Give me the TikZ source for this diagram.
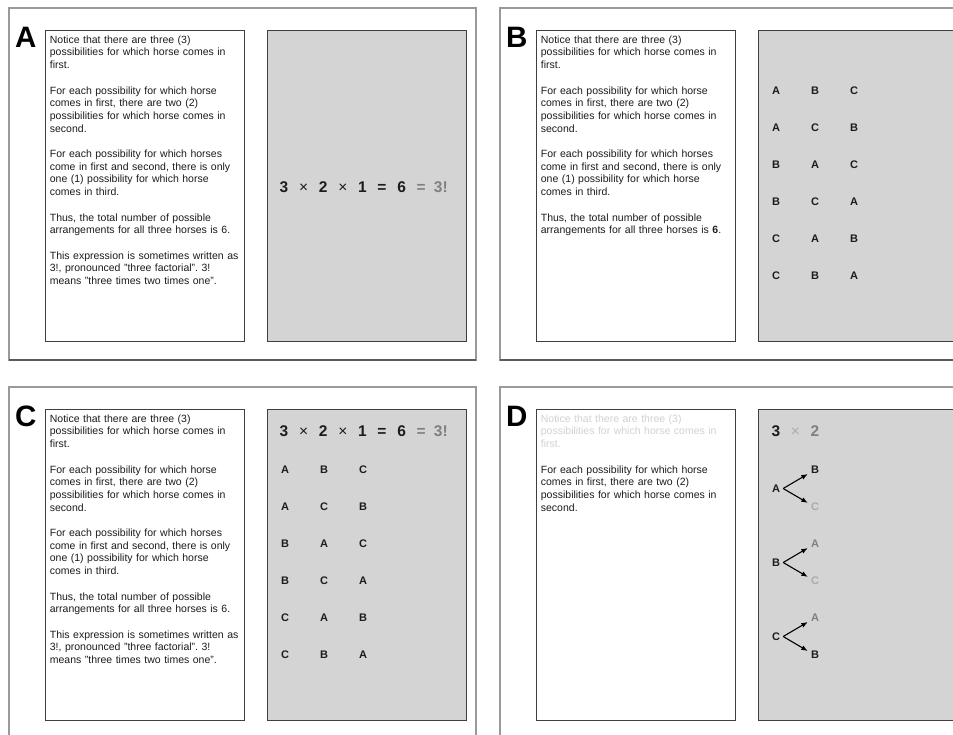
\documentclass[tikz,border=0pt]{standalone}
\usepackage{fontspec}
\setmainfont{Liberation Sans}
\usepackage{tikz}
\usetikzlibrary{arrows.meta,positioning,calc}
\frenchspacing
\definecolor{cInk}{HTML}{1C1C1C}
\definecolor{cEdge}{HTML}{3F3F3F}
\definecolor{cFrame}{HTML}{9A9A9A}
\definecolor{cRim}{HTML}{5A5A5A}
\definecolor{cBoard}{HTML}{D4D4D4}
\definecolor{cMid}{HTML}{808080}
\definecolor{cPale}{HTML}{ABABAB}
\definecolor{cFaint}{HTML}{D2D2D2}
\tikzset{
  frame/.style={draw=cFrame, line width=1.1pt},
  rim/.style={draw=cRim, line width=1.1pt},
  sheet/.style={draw=cEdge, line width=1pt, fill=white, minimum width=199pt,
                minimum height=311pt, inner sep=0pt, anchor=north west},
  board/.style={sheet, fill=cBoard},
  tag/.style={font=\fontsize{29.5}{30}\selectfont\bfseries, text=black, inner sep=0pt, anchor=north west},
  para/.style={font=\fontsize{10.5}{12.7}\selectfont, text=cInk, text width=196pt,
               align=left, inner sep=0pt, anchor=north west},
  tok/.style={font=\fontsize{15.5}{16}\selectfont\bfseries, text=cInk, inner sep=0pt, anchor=base},
  lett/.style={font=\fontsize{11}{12}\selectfont\bfseries, text=cInk, inner sep=0pt},
  tree/.style={-{Latex[length=6.5pt,width=5pt]}, line width=1.1pt, draw=black},
}

\begin{document}
\begin{tikzpicture}[x=1pt, y=-1pt]
  \useasboundingbox (0,0) rectangle (953,734);
  \clip (0,0) rectangle (953,734);

  % four panels: text sheet, grey board, letter, frame
  \foreach \p/\dx/\dy in {A/0/0, B/491/0, C/0/379, D/491/379} {
    \node[sheet] (t\p) at (45+\dx, 30+\dy) {};
    \node[board, right=22pt of t\p] (b\p) {};
    \node[tag] (g\p) at ([shift={(-30pt,3pt)}]t\p.north west) {\p};
    \draw[frame] ([shift={(-36pt,22pt)}]t\p.north west) rectangle ([shift={(9pt,-18pt)}]b\p.south east);
    \draw[rim] ([shift={(-36pt,-18pt)}]t\p.south west) -- ([shift={(9pt,-18pt)}]b\p.south east);
  }

  % text
  \node[para] (pA) at ([shift={(4.7pt,-5.4pt)}]tA.north west) {Notice that there are three (3)\\possibilities for which horse comes in\\first.\\[\baselineskip]
    For each possibility for which horse\\comes in first, there are two (2)\\possibilities for which horse comes in\\second.\\[\baselineskip]
    For each possibility for which horses\\come in first and second, there is only\\one (1) possibility for which horse\\comes in third.\\[\baselineskip]
    Thus, the total number of possible\\arrangements for all three horses is 6.\\[\baselineskip]
    This expression is sometimes written as\\3!, pronounced "three factorial". 3!\\means "three times two times one".};
  \node[para] (pB) at ([shift={(4.7pt,-5.4pt)}]tB.north west) {Notice that there are three (3)\\possibilities for which horse comes in\\first.\\[\baselineskip]
    For each possibility for which horse\\comes in first, there are two (2)\\possibilities for which horse comes in\\second.\\[\baselineskip]
    For each possibility for which horses\\come in first and second, there is only\\one (1) possibility for which horse\\comes in third.\\[\baselineskip]
    Thus, the total number of possible\\arrangements for all three horses is \textbf{6}.};
  \node[para] (pC) at ([shift={(4.7pt,-5.4pt)}]tC.north west) {Notice that there are three (3)\\possibilities for which horse comes in\\first.\\[\baselineskip]
    For each possibility for which horse\\comes in first, there are two (2)\\possibilities for which horse comes in\\second.\\[\baselineskip]
    For each possibility for which horses\\come in first and second, there is only\\one (1) possibility for which horse\\comes in third.\\[\baselineskip]
    Thus, the total number of possible\\arrangements for all three horses is 6.\\[\baselineskip]
    This expression is sometimes written as\\3!, pronounced "three factorial". 3!\\means "three times two times one".};
  \node[para] (pD) at ([shift={(4.7pt,-5.4pt)}]tD.north west) {\textcolor{cFaint}{Notice that there are three (3)\\possibilities for which horse comes in\\first.}\\[\baselineskip]
    For each possibility for which horse\\comes in first, there are two (2)\\possibilities for which horse comes in\\second.};

  % equations
  \foreach \p/\yb in {A/192, C/436} {
    \foreach \t/\cl [count=\i from 0] in {3/cInk, {\mdseries ×}/cInk, 2/cInk, {\mdseries ×}/cInk, 1/cInk, =/cInk, 6/cInk, =/cMid, 3!/cMid}
      \node[tok, text=\cl] (e\p\i) at (284+19.6*\i, \yb) {\t};
  }
  \node[tok] (eD0) at (776, 436) {3};
  \node[tok, text=cPale] (eD1) at (795.5, 436) {\mdseries ×};
  \node[tok, text=cMid] (eD2) at (815, 436) {2};

  % orderings
  \foreach \p/\x/\y in {B/776/91, C/285/470} {
    \foreach \fa/\fb/\fc [count=\k from 0] in {A/B/C, A/C/B, B/A/C, B/C/A, C/A/B, C/B/A} {
      \node[lett] (o\p\k a) at (\x, \y+37*\k) {\fa};
      \node[lett] (o\p\k b) at (\x+39, \y+37*\k) {\fb};
      \node[lett] (o\p\k c) at (\x+78, \y+37*\k) {\fc};
    }
  }

  % branching in D
  \foreach \r/\hi/\hc/\lo/\lc [count=\k from 0] in {A/B/cInk/C/cPale, B/A/cMid/C/cPale, C/A/cMid/B/cInk} {
    \node[lett] (r\k) at (776, 488.5+74*\k) {\r};
    \node[lett, text=\hc] (u\k) at (815, 470+74*\k) {\hi};
    \node[lett, text=\lc] (d\k) at (815, 507+74*\k) {\lo};
    \draw[tree] ([xshift=3pt]r\k.east) -- ([xshift=-3pt]u\k.south west);
    \draw[tree] ([xshift=3pt]r\k.east) -- ([xshift=-3pt]d\k.north west);
  }
\end{tikzpicture}
\end{document}
